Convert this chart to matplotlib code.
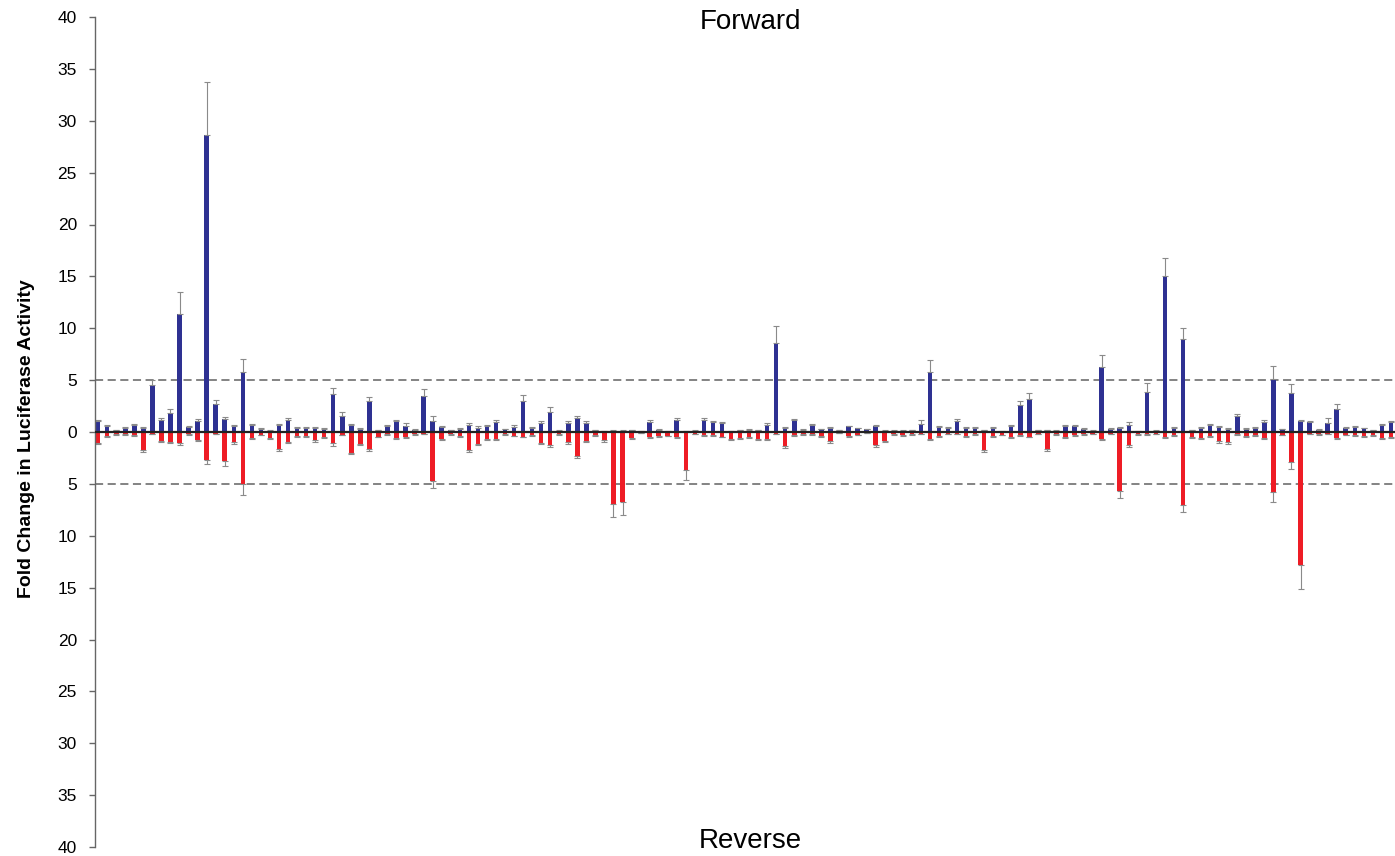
import numpy as np
import matplotlib
matplotlib.use('Agg')
import matplotlib.pyplot as plt
from matplotlib.ticker import FuncFormatter

# forward (up, blue) and reverse (down, red) fold change per construct
fwd = [1.03, 0.58, 0.16, 0.42, 0.67, 0.38, 4.52, 1.19, 1.8, 11.4,
       0.51, 1.06, 28.6, 2.66, 1.28, 0.54, 5.8, 0.67, 0.32, 0.13,
       0.71, 1.15, 0.38, 0.4, 0.38, 0.29, 3.62, 1.54, 0.64, 0.29,
       2.98, 0.19, 0.54, 1.03, 0.54, 0.22, 3.43, 1.06, 0.45, 0.16,
       0.29, 0.67, 0.42, 0.54, 0.99, 0.26, 0.51, 3.01, 0.38, 0.9,
       1.96, 0.13, 0.87, 1.35, 0.87, 0.19, 0.06, 0.13, 0.13, 0.19,
       0.1, 0.99, 0.22, 0.1, 1.19, 0.1, 0.13, 1.19, 0.93, 0.83,
       0.1, 0.16, 0.22, 0.16, 0.67, 8.56, 0.35, 1.12, 0.22, 0.71,
       0.26, 0.38, 0.19, 0.54, 0.35, 0.26, 0.58, 0.13, 0.13, 0.13,
       0.19, 0.77, 5.77, 0.45, 0.36, 1.06, 0.38, 0.42, 0.19, 0.35,
       0.1, 0.58, 2.56, 3.2, 0.19, 0.19, 0.13, 0.54, 0.54, 0.29,
       0.13, 6.25, 0.29, 0.42, 0.71, 0.1, 3.88, 0.13, 15.0, 0.42,
       8.94, 0.19, 0.38, 0.67, 0.45, 0.29, 1.57, 0.32, 0.42, 0.99,
       5.1, 0.26, 3.75, 1.03, 0.93, 0.22, 0.9, 2.24, 0.38, 0.48,
       0.35, 0.16, 0.64, 0.93]

rev = [1.06, 0.42, 0.22, 0.22, 0.29, 1.76, 0.16, 0.83, 0.93, 1.06,
       0.22, 0.74, 2.72, 0.19, 2.76, 0.99, 5.0, 0.58, 0.26, 0.58,
       1.6, 0.93, 0.38, 0.43, 0.8, 0.45, 1.06, 0.26, 1.99, 1.15,
       1.67, 0.45, 0.22, 0.54, 0.51, 0.22, 0.19, 4.68, 0.67, 0.22,
       0.42, 1.73, 1.12, 0.67, 0.67, 0.22, 0.35, 0.45, 0.29, 1.03,
       1.28, 0.22, 0.99, 2.31, 0.83, 0.29, 0.8, 6.9, 6.7, 0.58,
       0.05, 0.51, 0.38, 0.35, 0.48, 3.62, 0.19, 0.32, 0.29, 0.45,
       0.67, 0.61, 0.48, 0.7, 0.64, 0.19, 1.38, 0.32, 0.22, 0.22,
       0.38, 0.87, 0.1, 0.42, 0.26, 0.1, 1.28, 0.87, 0.22, 0.32,
       0.22, 0.16, 0.64, 0.42, 0.19, 0.16, 0.38, 0.22, 1.73, 0.38,
       0.26, 0.48, 0.29, 0.45, 0.19, 1.63, 0.22, 0.48, 0.32, 0.22,
       0.16, 0.67, 0.16, 5.7, 1.25, 0.22, 0.22, 0.19, 0.51, 0.32,
       7.0, 0.48, 0.61, 0.42, 0.87, 0.96, 0.22, 0.42, 0.32, 0.58,
       5.77, 0.26, 2.92, 12.8, 0.19, 0.22, 0.19, 0.61, 0.26, 0.29,
       0.42, 0.29, 0.54, 0.51]

fwd_err = [0.15, 0.1, 0.05, 0.08, 0.1, 0.06, 0.5, 0.2, 0.4, 2.1,
           0.1, 0.2, 5.1, 0.4, 0.15, 0.1, 1.2, 0.1, 0.06, 0.05,
           0.1, 0.2, 0.06, 0.08, 0.08, 0.06, 0.6, 0.4, 0.12, 0.06,
           0.35, 0.05, 0.1, 0.15, 0.3, 0.06, 0.75, 0.5, 0.1, 0.05,
           0.08, 0.15, 0.15, 0.15, 0.12, 0.06, 0.12, 0.6, 0.08, 0.15,
           0.45, 0.05, 0.15, 0.2, 0.15, 0.05, 0.03, 0.05, 0.05, 0.05,
           0.04, 0.15, 0.06, 0.04, 0.15, 0.04, 0.04, 0.15, 0.15, 0.12,
           0.04, 0.05, 0.06, 0.05, 0.15, 1.7, 0.1, 0.15, 0.06, 0.1,
           0.06, 0.08, 0.05, 0.08, 0.08, 0.06, 0.1, 0.04, 0.04, 0.04,
           0.05, 0.35, 1.15, 0.1, 0.08, 0.15, 0.08, 0.1, 0.05, 0.1,
           0.04, 0.1, 0.4, 0.6, 0.05, 0.05, 0.04, 0.1, 0.1, 0.06,
           0.04, 1.15, 0.06, 0.1, 0.3, 0.04, 0.8, 0.04, 1.8, 0.1,
           1.1, 0.05, 0.1, 0.12, 0.1, 0.06, 0.2, 0.08, 0.1, 0.15,
           1.25, 0.06, 0.85, 0.15, 0.15, 0.05, 0.45, 0.5, 0.08, 0.1,
           0.08, 0.05, 0.1, 0.15]

rev_err = [0.12, 0.08, 0.05, 0.05, 0.06, 0.2, 0.04, 0.12, 0.12, 0.15,
           0.05, 0.12, 0.4, 0.04, 0.5, 0.15, 1.1, 0.1, 0.06, 0.1,
           0.2, 0.15, 0.06, 0.08, 0.12, 0.1, 0.3, 0.05, 0.15, 0.15,
           0.2, 0.08, 0.05, 0.1, 0.1, 0.05, 0.05, 0.75, 0.1, 0.05,
           0.08, 0.2, 0.15, 0.1, 0.1, 0.05, 0.06, 0.08, 0.06, 0.15,
           0.15, 0.05, 0.12, 0.15, 0.12, 0.06, 0.12, 1.3, 1.3, 0.1,
           0.02, 0.08, 0.06, 0.06, 0.08, 1.05, 0.04, 0.06, 0.06, 0.08,
           0.1, 0.1, 0.08, 0.1, 0.1, 0.04, 0.15, 0.06, 0.04, 0.04,
           0.06, 0.2, 0.02, 0.08, 0.05, 0.02, 0.2, 0.12, 0.05, 0.06,
           0.05, 0.04, 0.1, 0.08, 0.04, 0.04, 0.06, 0.05, 0.2, 0.06,
           0.05, 0.08, 0.06, 0.08, 0.04, 0.2, 0.05, 0.08, 0.06, 0.05,
           0.04, 0.1, 0.04, 0.65, 0.2, 0.05, 0.05, 0.04, 0.08, 0.06,
           0.7, 0.08, 0.1, 0.08, 0.15, 0.15, 0.05, 0.08, 0.06, 0.1,
           1.0, 0.05, 0.6, 2.3, 0.04, 0.05, 0.04, 0.1, 0.05, 0.06,
           0.08, 0.06, 0.1, 0.1]

plt.rcParams['font.family'] = ['Liberation Sans', 'DejaVu Sans']

fig = plt.figure(figsize=(13.95, 8.56), dpi=100)
ax = fig.add_axes([95 / 1395, 9 / 856, 1300 / 1395, 830 / 856])

x = np.arange(len(fwd))
zeros = np.zeros(len(fwd))
ekw = dict(ecolor='#8a8a8a', elinewidth=0.8, capsize=2.2, capthick=0.8)

ax.bar(x, fwd, width=0.5, color='#2e3192',
       yerr=[zeros, fwd_err], error_kw=ekw, zorder=2)
ax.bar(x, -np.array(rev), width=0.5, color='#ee1c25',
       yerr=[rev_err, zeros], error_kw=ekw, zorder=2)

ax.axhline(0, color='#222222', lw=1.6, zorder=3)
for y in (5, -5):
    ax.axhline(y, color='#7a7a7a', lw=1.3, ls=(0, (4.5, 2.5)), zorder=1)

ax.set_xlim(-0.35, 143.45)
ax.set_ylim(-40, 40)
ax.set_yticks(range(-40, 41, 5))
ax.yaxis.set_major_formatter(FuncFormatter(lambda v, p: f"{abs(int(round(v)))}"))
ax.set_xticks([])
ax.tick_params(axis='y', direction='out', length=4, width=1,
               color='#666666', labelsize=12.5, pad=9)

for s in ('top', 'right', 'bottom'):
    ax.spines[s].set_visible(False)
ax.spines['left'].set_color('#666666')
ax.spines['left'].set_linewidth(1)

ax.set_ylabel('Fold Change in Luciferase Activity', fontsize=14,
              fontweight='bold')
ax.yaxis.set_label_coords(-60 / 1300, 0.492)

fig.text(750 / 1395, 1 - 22 / 856, 'Forward', ha='center', va='center',
         fontsize=20)
fig.text(750 / 1395, 1 - 841 / 856, 'Reverse', ha='center', va='center',
         fontsize=20)

plt.savefig('out.png', dpi=100)
plt.close()
